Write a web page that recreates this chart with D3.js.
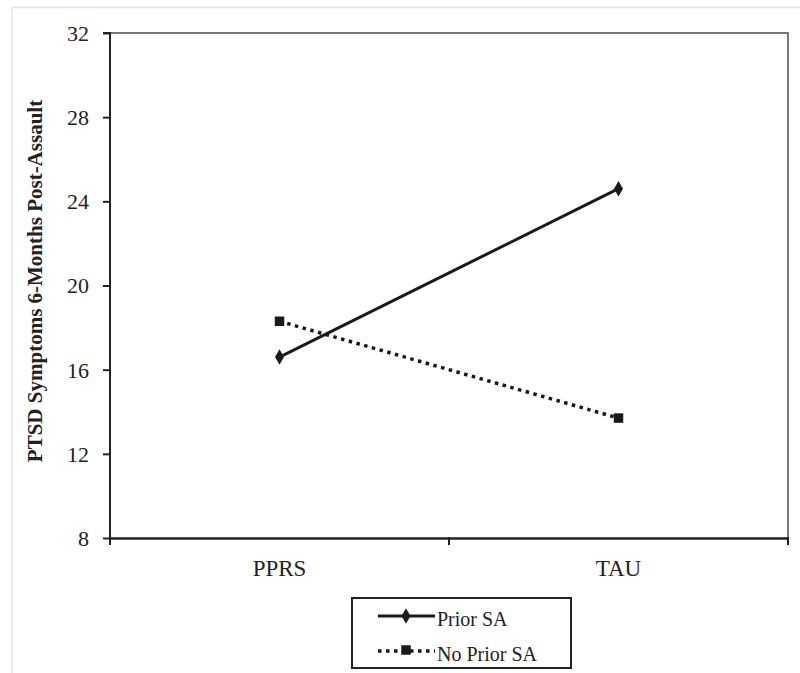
<!DOCTYPE html>
<html><head><meta charset="utf-8">
<script src="https://cdn.jsdelivr.net/npm/d3@7"></script>
<style>body{margin:0;background:#fff}svg{display:block}svg text{font-family:"Liberation Serif","Times New Roman",serif}</style>
</head><body><svg id="c" width="800" height="673"></svg>
<script>
const categories = ["PPRS", "TAU"];
const priorSA = [16.6, 24.6];
const noPriorSA = [18.3, 13.7];
const yTicks = [8, 12, 16, 20, 24, 28, 32];
const seriesNames = ["Prior SA", "No Prior SA"];
const yTitle = "PTSD Symptoms 6-Months Post-Assault";

const svg = d3.select("#c");
const L = 110, R = 788, T = 33, B = 538;
const font = "'Liberation Serif','Times New Roman',serif";

// faint outer frame
svg.append("path").attr("d", "M12,673V7.5H800").attr("fill","none").attr("stroke","#e4e4e4").attr("stroke-width",1.5);

const x = d3.scaleBand().domain(categories).range([L, R]).paddingInner(0).paddingOuter(0);
const y = d3.scaleLinear().domain([8, 32]).range([B, T]);
const cx = c => x(c) + x.bandwidth()/2;

// plot frame (top, right) gray
svg.append("path").attr("d", `M${L},${T}H${R}V${B}`).attr("fill","none").attr("stroke","#777").attr("stroke-width",2);

// y axis
const ya = svg.append("g").attr("transform", `translate(${L},0)`)
  .call(d3.axisLeft(y).tickValues(yTicks).tickSize(7).tickPadding(14).tickFormat(d3.format("d")));
ya.attr("font-family", null);
ya.select(".domain").attr("stroke","#222").attr("stroke-width",2).attr("d", `M-7,${T}H0V${B}`);
ya.selectAll(".tick line").attr("stroke","#222").attr("stroke-width",2);
ya.selectAll("text").style("font-family", font).attr("font-size", 22).attr("fill","#222").attr("dy","0.34em");

// x axis
const xa = svg.append("g").attr("transform", `translate(0,${B})`)
  .call(d3.axisBottom(x).tickSize(0).tickPadding(22));
xa.attr("font-family", null);
xa.select(".domain").attr("stroke","#222").attr("stroke-width",2.5);
xa.selectAll("text").style("font-family", font).attr("font-size", 23).attr("fill","#222");
// boundary ticks
const bounds = [L, x(categories[1]), R];
svg.append("g").selectAll("line").data(bounds).join("line")
  .attr("x1", d=>d).attr("x2", d=>d).attr("y1", B - 1).attr("y2", B + 7)
  .attr("stroke","#222").attr("stroke-width",2);

// y title
svg.append("text").attr("transform", `translate(42,${281}) rotate(-90)`)
  .attr("text-anchor","middle").style("font-family", font).attr("font-weight","bold")
  .attr("font-size", 21).attr("fill","#222").text(yTitle);

const line = d3.line().x((d,i)=>cx(categories[i])).y(d=>y(d));
svg.append("path").datum(priorSA).attr("d", line).attr("fill","none").attr("stroke","#1a1a1a").attr("stroke-width",3);
svg.append("path").datum(noPriorSA).attr("d", line).attr("fill","none").attr("stroke","#1a1a1a")
  .attr("stroke-width",3.5).attr("stroke-dasharray","3.5,4.5");

const diamond = d3.symbol().type(d3.symbolDiamond).size(70);
const square = d3.symbol().type(d3.symbolSquare).size(90);
svg.append("g").selectAll("path").data(priorSA).join("path")
  .attr("transform",(d,i)=>`translate(${cx(categories[i])},${y(d)})`).attr("d", diamond).attr("fill","#1a1a1a");
svg.append("g").selectAll("path").data(noPriorSA).join("path")
  .attr("transform",(d,i)=>`translate(${cx(categories[i])},${y(d)})`).attr("d", square).attr("fill","#1a1a1a");

// legend
const lg = svg.append("g");
lg.append("rect").attr("x",352).attr("y",598).attr("width",219).attr("height",70)
  .attr("fill","#fff").attr("stroke","#222").attr("stroke-width",2);
const rows = [616, 651];
lg.append("line").attr("x1",378).attr("x2",435).attr("y1",rows[0]).attr("y2",rows[0]).attr("stroke","#1a1a1a").attr("stroke-width",3);
lg.append("path").attr("transform",`translate(406,${rows[0]})`).attr("d", diamond).attr("fill","#1a1a1a");
lg.append("line").attr("x1",378).attr("x2",435).attr("y1",rows[1]).attr("y2",rows[1]).attr("stroke","#1a1a1a").attr("stroke-width",3.5).attr("stroke-dasharray","3.5,4.5");
lg.append("path").attr("transform",`translate(406,${rows[1]-1})`).attr("d", square).attr("fill","#1a1a1a");
lg.selectAll("text.l").data(seriesNames).join("text").attr("class","l")
  .attr("x",437).attr("y",(d,i)=>rows[i]+10).style("font-family",font).attr("font-size",20).attr("fill","#222").text(d=>d);
</script></body></html>
